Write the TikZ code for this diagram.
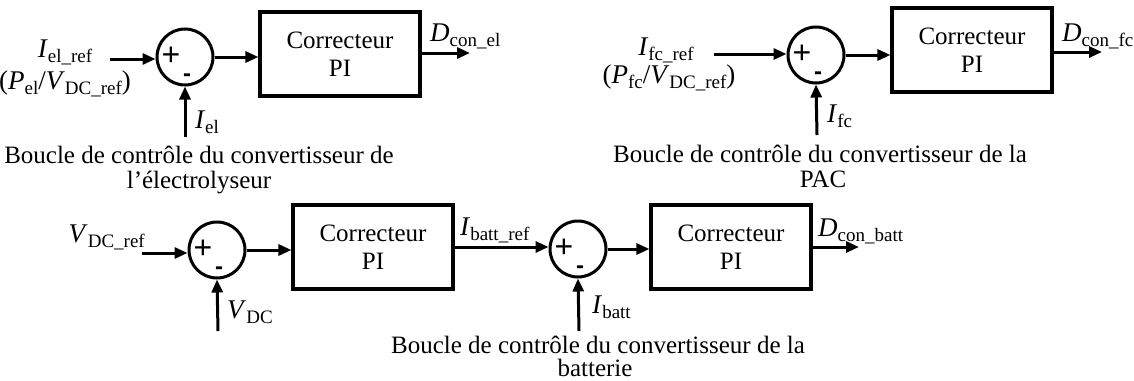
\documentclass[tikz,border=0pt]{standalone}
\usepackage{fontspec}
\setmainfont{Liberation Serif}
\newfontfamily\signfont{Liberation Sans}
\usetikzlibrary{arrows.meta}
\newcommand\lab[2]{\textit{#1}\raisebox{-0.2em}{\fontsize{19}{19}\selectfont #2}}
\begin{document}
\begin{tikzpicture}[x=1pt,y=-1pt,
  sumnode/.style={circle, draw, minimum size=56pt, inner sep=0pt, line width=3pt},
  pibox/.style={draw, line width=3.2pt, minimum width=160pt, minimum height=84pt, inner sep=0pt, align=center, font=\fontsize{25}{28}\selectfont},
  arr/.style={-{Triangle[length=13pt,width=11pt]}, line width=3pt},
  lbl/.style={inner sep=0pt, font=\fontsize{27}{30}\selectfont},
  captxt/.style={inner sep=0pt, anchor=base, font=\fontsize{25}{27}\selectfont},
  sgn/.style={inner sep=0pt, font=\signfont\fontsize{32}{32}\selectfont},
  msgn/.style={inner sep=0pt, font=\signfont\bfseries\fontsize{24}{24}\selectfont}]
\useasboundingbox (0,0) rectangle (1134,380);
\fill[white] (0,0) rectangle (1134,380);

% ---------- electrolyser loop ----------
\node[sumnode] (s1) at (185,57) {};
\node[sgn] (p1) at (171,56) {+};
\node[msgn] (m1) at (187,78) {-};
\node[pibox] (b1) at (340,54) {Correcteur\\PI};
\coordinate (in1) at (110,59);
\coordinate (o1) at (470,53);
\coordinate (f1) at (185,137);
\draw[arr] (in1) -- (s1.west |- in1);
\draw[arr] (s1.east) -- (s1.east -| b1.west);
\draw[arr] (b1.east |- o1) -- (o1);
\draw[arr] (f1) -- (s1.south);
\node[lbl, anchor=base] (l1a) at (65,57) {\lab{I}{el\_ref}};
\node[lbl, anchor=base] (l1b) at (65,89) {(\lab{P}{el}/\lab{V}{DC\_ref})};
\node[lbl, anchor=base west] (l1c) at (195,128) {\lab{I}{el}};
\node[lbl, anchor=base west] (l1d) at (430,41) {\lab{D}{con\_el}};
\node[captxt] (c1a) at (199,163) {Boucle de contrôle du convertisseur de};
\node[captxt] (c1b) at (199,188) {l’électrolyseur};

% ---------- fuel cell loop ----------
\node[sumnode] (s2) at (816,55) {};
\node[sgn] (p2) at (802,54) {+};
\node[msgn] (m2) at (818,76) {-};
\node[pibox] (b2) at (972,50) {Correcteur\\PI};
\coordinate (in2) at (714,54);
\coordinate (o2) at (1102,52);
\coordinate (f2) at (817,135);
\draw[arr] (in2) -- (s2.west |- in2);
\draw[arr] (s2.east) -- (s2.east -| b2.west);
\draw[arr] (b2.east |- o2) -- (o2);
\draw[arr] (f2) -- (s2.south);
\node[lbl, anchor=base] (l2a) at (666,55) {\lab{I}{fc\_ref}};
\node[lbl, anchor=base] (l2b) at (669,83) {(\lab{P}{fc}/\lab{V}{DC\_ref})};
\node[lbl, anchor=base west] (l2c) at (827,122) {\lab{I}{fc}};
\node[lbl, anchor=base west] (l2d) at (1062,41) {\lab{D}{con\_fc}};
\node[captxt] (c2a) at (820,162) {Boucle de contrôle du convertisseur de la};
\node[captxt] (c2b) at (823,187) {PAC};

% ---------- battery loop ----------
\node[sumnode] (s3) at (217,250) {};
\node[sgn] (p3) at (203,249) {+};
\node[msgn] (m3) at (219,271) {-};
\node[pibox] (b3) at (373,247) {Correcteur\\PI};
\node[sumnode] (s4) at (578,249) {};
\node[sgn] (p4) at (564,248) {+};
\node[msgn] (m4) at (580,270) {-};
\node[pibox] (b4) at (731,247) {Correcteur\\PI};
\coordinate (in3) at (142,253);
\coordinate (o4) at (859,247);
\coordinate (f3) at (218,331);
\coordinate (f4) at (579,331);
\draw[arr] (in3) -- (s3.west |- in3);
\draw[arr] (s3.east) -- (s3.east -| b3.west);
\draw[arr] (b3.east) -- (b3.east -| s4.west);
\draw[arr] (s4.east) -- (s4.east -| b4.west);
\draw[arr] (b4.east) -- (o4);
\draw[arr] (f3) -- (s3.south);
\draw[arr] (f4) -- (s4.south);
\node[lbl, anchor=base east] (l3a) at (145,242) {\lab{V}{DC\_ref}};
\node[lbl, anchor=base west] (l3b) at (227,318) {\lab{V}{DC}};
\node[lbl, anchor=base west] (l3c) at (460,235) {\lab{I}{batt\_ref}};
\node[lbl, anchor=base west] (l3d) at (592,313) {\lab{I}{batt}};
\node[lbl, anchor=base west] (l3e) at (818,236) {\lab{D}{con\_batt}};
\node[captxt] (c3a) at (598,353) {Boucle de contrôle du convertisseur de la};
\node[captxt] (c3b) at (595,376) {batterie};
\end{tikzpicture}
\end{document}
